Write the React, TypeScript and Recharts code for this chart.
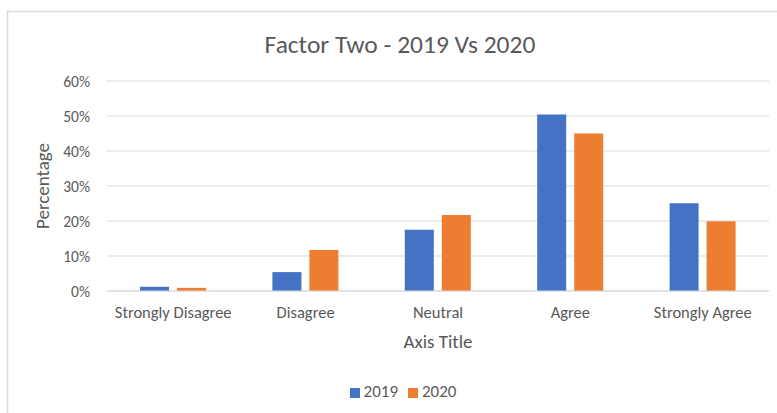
import React from 'react';
import { BarChart, Bar, XAxis, YAxis, CartesianGrid, Legend } from 'recharts';

const categories = ['Strongly Disagree', 'Disagree', 'Neutral', 'Agree', 'Strongly Agree'];
const values2019 = [1.2, 5.4, 17.5, 50.4, 25.1];
const values2020 = [0.9, 11.7, 21.7, 45.0, 19.9];
const yTicks = [0, 10, 20, 30, 40, 50, 60];

const data = categories.map((c, i) => ({ name: c, y2019: values2019[i], y2020: values2020[i] }));

const FONT = 'Carlito, Lato, sans-serif';
const GRAY = '#595959';

const YLabel = (props: any) => {
  const vb = props.viewBox || {};
  const cx = vb.x - 5;
  const cy = vb.y + vb.height / 2;
  return (
    <text x={cx} y={cy} transform={`rotate(-90 ${cx} ${cy})`} textAnchor="middle" dominantBaseline="central" fill={GRAY} fontSize={19} fontFamily={FONT}>
      Percentage
    </text>
  );
};

export default function App() {
  return (
    <div style={{ position: 'absolute', left: 0, top: 0, width: 777, height: 413, overflow: 'hidden', background: '#fff', fontFamily: FONT }}>
      <BarChart width={777} height={413} data={data} margin={{ top: 81, right: 8, left: 47, bottom: 42 }} barSize={29} barGap={8}>
        <rect x={7.5} y={11.5} width={900} height={500} fill="none" stroke="#d9d9d9" strokeWidth={1.5} />
        <text x={400} y={53} textAnchor="middle" fill={GRAY} fontSize={25.5} fontFamily={FONT}>Factor Two - 2019 Vs 2020</text>
        <CartesianGrid vertical={false} stroke="#d9d9d9" />
        <XAxis
          dataKey="name"
          tickLine={false}
          axisLine={{ stroke: '#d9d9d9' }}
          tickSize={0}
          tickMargin={15}
          height={60}
          tick={{ fill: GRAY, fontSize: 16.5, fontFamily: FONT }}
          interval={0}
          label={{ value: 'Axis Title', position: 'insideBottom', offset: 3, fill: GRAY, fontSize: 19, fontFamily: FONT }}
        />
        <YAxis
          width={60}
          domain={[0, 60]}
          ticks={yTicks}
          tickFormatter={(v: number) => `${v}%`}
          axisLine={false}
          tickLine={false}
          tickSize={0}
          tickMargin={17}
          tick={{ fill: GRAY, fontSize: 15.5, fontFamily: FONT }}
          label={(p: any) => <YLabel {...p} />}
        />
        <Legend
          verticalAlign="bottom"
          iconType="square"
          iconSize={10}
          wrapperStyle={{ top: 382, height: 20, lineHeight: '20px', fontSize: 17, fontFamily: FONT }}
          formatter={(v: string) => <span style={{ color: GRAY }}>{v}</span>}
        />
        <Bar dataKey="y2019" name="2019" fill="#4472C4" isAnimationActive={false} />
        <Bar dataKey="y2020" name="2020" fill="#ED7D31" isAnimationActive={false} />
      </BarChart>
    </div>
  );
}
